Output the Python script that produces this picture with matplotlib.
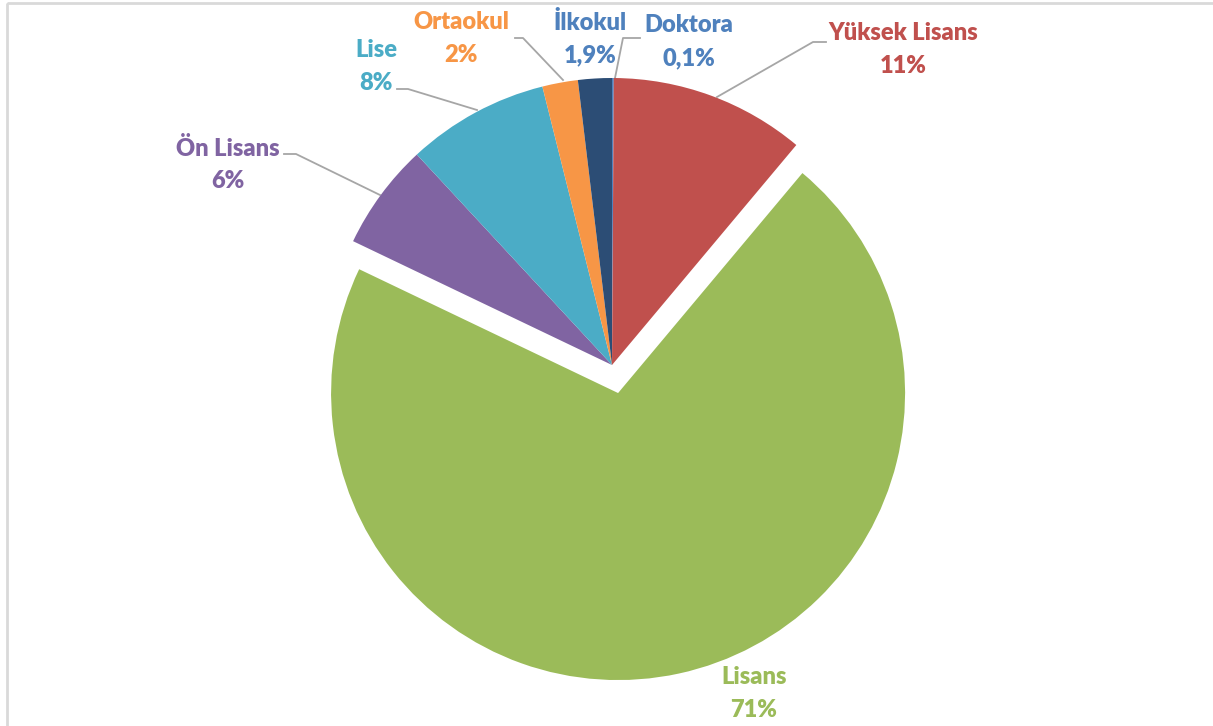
import matplotlib.pyplot as plt
from matplotlib.patches import Rectangle

# data (clockwise from 12 o'clock)
labels  = ['Doktora', 'Yüksek Lisans', 'Lisans', 'Ön Lisans', 'Lise', 'Ortaokul', 'İlkokul']
pct_txt = ['0,1%', '11%', '71%', '6%', '8%', '2%', '1,9%']
values  = [0.1, 11, 71, 6, 8, 2, 1.9]
colors  = ['#4F81BD', '#C0504D', '#9BBB59', '#8064A2', '#4BACC6', '#F79646', '#2C4D75']
txt_col = ['#4F81BD', '#C0504D', '#9BBB59', '#8064A2', '#4BACC6', '#F79646', '#4F81BD']

W, H = 1213, 726
R = 287
explode = [0, 0, 0.1*R, 0, 0, 0, 0]   # pie() takes explode in data units here

fig = plt.figure(figsize=(W/100, H/100), dpi=100)
ax = fig.add_axes([0, 0, 1, 1])
ax.set_xlim(0, W)
ax.set_ylim(H, 0)
ax.axis('off')

# pie drawn in a separate axes (pixel coords, y up)
axp = fig.add_axes([0, 0, 1, 1])
axp.pie(values, colors=colors, explode=explode, startangle=90, counterclock=False,
        center=(612, H - 365), radius=R, wedgeprops=dict(linewidth=0))
axp.set_xlim(0, W)
axp.set_ylim(0, H)
axp.set_aspect('auto')
axp.axis('off')

# chart border
ax.add_patch(Rectangle((6.5, 2.5), W + 20, H + 20, fill=False, ec='#D9D9D9', lw=2))

# label positions (pixels) and leader lines
lab_pos = {'Doktora': (689, 25), 'Yüksek Lisans': (903, 33), 'Lisans': (754, 677),
           'Ön Lisans': (228, 148), 'Lise': (376, 50), 'Ortaokul': (461, 22),
           'İlkokul': (590, 22)}
leaders = {'Doktora': [(640, 38), (623, 38), (615, 78)],
           'Yüksek Lisans': [(826, 42), (813, 42), (717, 97)],
           'Ön Lisans': [(284, 154), (296, 154), (380, 195)],
           'Lise': [(397, 89), (408, 89), (477, 110)],
           'Ortaokul': [(515, 38), (523, 38), (563, 80)]}

for name, xy in leaders.items():
    xs, ys = zip(*xy)
    ax.plot(xs, ys, color='#A6A6A6', lw=1.3, zorder=3)

for i, name in enumerate(labels):
    x, y = lab_pos[name]
    ax.text(x, y, name, color=txt_col[i], fontsize=17, fontweight='heavy',
            family='Lato', ha='center', va='center')
    ax.text(x, y + 33, pct_txt[i], color=txt_col[i], fontsize=17, fontweight='heavy',
            family='Lato', ha='center', va='center')

fig.savefig('out.png', dpi=100)
